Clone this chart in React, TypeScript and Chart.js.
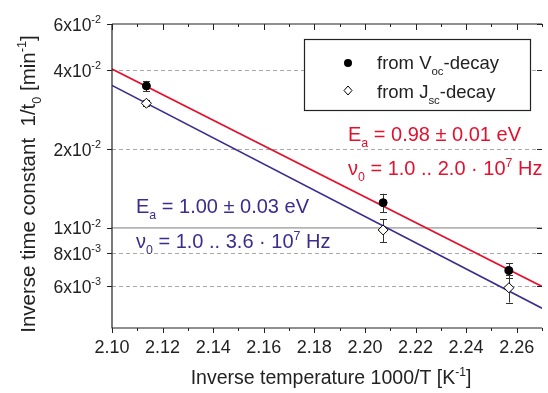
import React, { useEffect, useRef } from 'react';
import { Chart, registerables } from 'chart.js';

Chart.register(...registerables);

// ---- data ----
const xVals = [2.1136, 2.2072, 2.2569];
const vocY = [0.0348, 0.01248, 0.00688];
const vocErr = [0.0016, 0.00102, 0.00044];
const jscY = [0.0299, 0.00982, 0.00591];
const jscErr = [0.0008, 0.001, 0.00072];
const fitX = [2.1, 2.27];
const vocFitY = [0.0404, 0.00598];
const jscFitY = [0.035, 0.00494];
const xTicks = [2.1, 2.12, 2.14, 2.16, 2.18, 2.2, 2.22, 2.24, 2.26];
const xMinorTicks = [2.11, 2.13, 2.15, 2.17, 2.19, 2.21, 2.23, 2.25, 2.27];
const yTicks = [0.006, 0.008, 0.01, 0.02, 0.04, 0.06];
const yTickMant = ['6', '8', '1', '2', '4', '6'];
const yTickExp = ['-3', '-3', '-2', '-2', '-2', '-2'];
const yDashed = [0.006, 0.008, 0.02, 0.04];
const ySolid = [0.01];
const X_MIN = 2.1;
const X_MAX = 2.27;
const Y_MIN = 0.00415;
const Y_MAX = 0.06;

const RED = '#e3112e';
const BLUE = '#3d2b8e';
const FONT = '"Liberation Sans", Arial, Helvetica, sans-serif';

type Seg = { t: string; s?: 'sub' | 'sup' };

function segFont(size: number, s?: string) {
  return `${s ? size * 0.62 : size}px ${FONT}`;
}
function richWidth(ctx: CanvasRenderingContext2D, segs: Seg[], size: number) {
  let w = 0;
  for (const g of segs) {
    ctx.font = segFont(size, g.s);
    w += ctx.measureText(g.t).width;
  }
  return w;
}
function drawRich(
  ctx: CanvasRenderingContext2D,
  segs: Seg[],
  x: number,
  y: number,
  size: number,
  color: string,
  align: 'left' | 'right' | 'center' = 'left'
) {
  const w = richWidth(ctx, segs, size);
  let cx = align === 'left' ? x : align === 'right' ? x - w : x - w / 2;
  ctx.save();
  ctx.fillStyle = color;
  ctx.textAlign = 'left';
  ctx.textBaseline = 'alphabetic';
  for (const g of segs) {
    ctx.font = segFont(size, g.s);
    const dy = g.s === 'sub' ? size * 0.3 : g.s === 'sup' ? -size * 0.42 : 0;
    ctx.fillText(g.t, cx, y + dy);
    cx += ctx.measureText(g.t).width;
  }
  ctx.restore();
}

const decorPlugin = {
  id: 'decor',
  beforeDatasetsDraw(chart: any) {
    const { ctx, chartArea: a, scales } = chart;
    const ys = scales.y;
    ctx.save();
    ctx.beginPath();
    ctx.rect(a.left, a.top, a.right - a.left, a.bottom - a.top);
    ctx.clip();
    ctx.strokeStyle = '#a8a8a8';
    ctx.lineWidth = 1;
    ctx.setLineDash([4, 3]);
    for (const v of yDashed) {
      const py = Math.round(ys.getPixelForValue(v)) + 0.5;
      ctx.beginPath();
      ctx.moveTo(a.left, py);
      ctx.lineTo(a.right, py);
      ctx.stroke();
    }
    ctx.setLineDash([]);
    ctx.strokeStyle = '#b4b4b4';
    ctx.lineWidth = 1.6;
    for (const v of ySolid) {
      const py = ys.getPixelForValue(v);
      ctx.beginPath();
      ctx.moveTo(a.left, py);
      ctx.lineTo(a.right, py);
      ctx.stroke();
    }
    ctx.restore();
  },
  beforeDatasetDraw(chart: any, args: any) {
    if (args.index !== 1) return;
    const { ctx, scales } = chart;
    const xs = scales.x;
    const ys = scales.y;
    ctx.save();
    ctx.strokeStyle = '#333';
    ctx.lineWidth = 1;
    const bars = (vals: number[], errs: number[]) => {
      vals.forEach((v, i) => {
        const px = Math.round(xs.getPixelForValue(xVals[i])) + 0.5;
        const t = ys.getPixelForValue(v + errs[i]);
        const b = ys.getPixelForValue(v - errs[i]);
        ctx.beginPath();
        ctx.moveTo(px, t);
        ctx.lineTo(px, b);
        ctx.moveTo(px - 3.5, Math.round(t) + 0.5);
        ctx.lineTo(px + 3.5, Math.round(t) + 0.5);
        ctx.moveTo(px - 3.5, Math.round(b) + 0.5);
        ctx.lineTo(px + 3.5, Math.round(b) + 0.5);
        ctx.stroke();
      });
    };
    bars(vocY, vocErr);
    bars(jscY, jscErr);
    ctx.restore();
  },
  afterDraw(chart: any) {
    const { ctx, chartArea: a, scales } = chart;
    const xs = scales.x;
    const ys = scales.y;
    ctx.save();
    // frame
    ctx.strokeStyle = '#222';
    ctx.lineWidth = 1.2;
    ctx.beginPath();
    ctx.moveTo(a.left, a.top);
    ctx.lineTo(a.left, a.bottom);
    ctx.lineTo(a.right, a.bottom);
    ctx.moveTo(a.left, a.top);
    ctx.lineTo(a.right, a.top);
    ctx.stroke();
    // x ticks
    ctx.lineWidth = 1;
    ctx.beginPath();
    for (const v of xTicks) {
      const px = Math.round(xs.getPixelForValue(v)) + 0.5;
      ctx.moveTo(px, a.bottom);
      ctx.lineTo(px, a.bottom + 5);
      ctx.moveTo(px, a.top);
      ctx.lineTo(px, a.top + 6);
    }
    for (const v of xMinorTicks) {
      const px = Math.round(xs.getPixelForValue(v)) + 0.5;
      ctx.moveTo(px, a.bottom);
      ctx.lineTo(px, a.bottom + 3);
      ctx.moveTo(px, a.top);
      ctx.lineTo(px, a.top + 3);
    }
    // y ticks
    for (const v of yTicks) {
      const py = Math.round(ys.getPixelForValue(v)) + 0.5;
      ctx.moveTo(a.left - 5, py);
      ctx.lineTo(a.left, py);
      ctx.moveTo(a.right - 5, py);
      ctx.lineTo(a.right, py);
    }
    ctx.stroke();
    // x tick labels
    ctx.fillStyle = '#222';
    ctx.font = `18px ${FONT}`;
    ctx.textAlign = 'center';
    ctx.textBaseline = 'alphabetic';
    for (const v of xTicks) {
      ctx.fillText(v.toFixed(2), xs.getPixelForValue(v), 353);
    }
    // y tick labels
    yTicks.forEach((v, i) => {
      const py = ys.getPixelForValue(v);
      drawRich(ctx, [{ t: yTickMant[i] + 'x10' }, { t: yTickExp[i], s: 'sup' }], 101, py + 6.5, 17.5, '#222', 'right');
    });
    // axis titles
    drawRich(
      ctx,
      [{ t: 'Inverse temperature 1000/T [K' }, { t: '-1', s: 'sup' }, { t: ']' }],
      331,
      384,
      19.5,
      '#222',
      'center'
    );
    ctx.save();
    ctx.translate(35, 184);
    ctx.rotate(-Math.PI / 2);
    drawRich(
      ctx,
      [
        { t: 'Inverse time constant  1/t' },
        { t: '0', s: 'sub' },
        { t: ' [min' },
        { t: '-1', s: 'sup' },
        { t: ']' },
      ],
      0,
      0,
      20.5,
      '#222',
      'center'
    );
    ctx.restore();
    // legend
    ctx.fillStyle = '#fff';
    ctx.fillRect(304, 39, 226, 71);
    ctx.strokeStyle = '#222';
    ctx.lineWidth = 1.2;
    ctx.strokeRect(304.5, 39.5, 226, 71);
    ctx.fillStyle = '#000';
    ctx.beginPath();
    ctx.arc(348, 63, 4, 0, Math.PI * 2);
    ctx.fill();
    ctx.fillStyle = '#fff';
    ctx.strokeStyle = '#000';
    ctx.lineWidth = 1;
    ctx.beginPath();
    ctx.moveTo(348, 86);
    ctx.lineTo(352, 90.5);
    ctx.lineTo(348, 95);
    ctx.lineTo(344, 90.5);
    ctx.closePath();
    ctx.fill();
    ctx.stroke();
    drawRich(ctx, [{ t: 'from V' }, { t: 'oc', s: 'sub' }, { t: '-decay' }], 377, 69, 18.5, '#222');
    drawRich(ctx, [{ t: 'from J' }, { t: 'sc', s: 'sub' }, { t: '-decay' }], 377, 98, 18.5, '#222');
    // annotations
    drawRich(ctx, [{ t: 'E' }, { t: 'a', s: 'sub' }, { t: ' = 0.98 \u00b1 0.01 eV' }], 348, 141, 20, RED);
    drawRich(
      ctx,
      [{ t: '\u03bd' }, { t: '0', s: 'sub' }, { t: ' = 1.0 .. 2.0 \u00b7 10' }, { t: '7', s: 'sup' }, { t: ' Hz' }],
      348,
      175,
      20,
      RED
    );
    drawRich(ctx, [{ t: 'E' }, { t: 'a', s: 'sub' }, { t: ' = 1.00 \u00b1 0.03 eV' }], 136, 213, 20, BLUE);
    drawRich(
      ctx,
      [{ t: '\u03bd' }, { t: '0', s: 'sub' }, { t: ' = 1.0 .. 3.6 \u00b7 10' }, { t: '7', s: 'sup' }, { t: ' Hz' }],
      136,
      248,
      20,
      BLUE
    );
    ctx.restore();
  },
};

export default function App() {
  const ref = useRef<HTMLCanvasElement>(null);
  useEffect(() => {
    const canvas = ref.current;
    if (!canvas) return;
    const chart = new Chart(canvas, {
      type: 'scatter',
      data: {
        datasets: [
          {
            label: 'from Voc-decay',
            data: xVals.map((x, i) => ({ x, y: vocY[i] })),
            pointStyle: 'circle',
            pointRadius: 4,
            backgroundColor: '#000',
            borderColor: '#000',
            borderWidth: 1,
            showLine: false,
          },
          {
            label: 'from Jsc-decay',
            data: xVals.map((x, i) => ({ x, y: jscY[i] })),
            pointStyle: 'rectRot',
            pointRadius: 5,
            backgroundColor: '#fff',
            borderColor: '#000',
            borderWidth: 1,
            showLine: false,
          },
          {
            label: 'fit Voc',
            data: fitX.map((x, i) => ({ x, y: vocFitY[i] })),
            showLine: true,
            pointRadius: 0,
            borderColor: RED,
            borderWidth: 1.6,
            fill: false,
          },
          {
            label: 'fit Jsc',
            data: fitX.map((x, i) => ({ x, y: jscFitY[i] })),
            showLine: true,
            pointRadius: 0,
            borderColor: BLUE,
            borderWidth: 1.6,
            fill: false,
          },
        ],
      } as any,
      options: {
        responsive: false,
        animation: false,
        devicePixelRatio: 1,
        layout: { padding: { top: 24, left: 0, right: 0, bottom: 0 } },
        plugins: { legend: { display: false }, tooltip: { enabled: false } },
        scales: {
          x: {
            type: 'linear',
            min: X_MIN,
            max: X_MAX,
            grid: { display: false, drawTicks: false },
            border: { display: false },
            ticks: { display: false },
            afterFit: (s: any) => {
              s.height = 65;
            },
          },
          y: {
            type: 'logarithmic',
            min: Y_MIN,
            max: Y_MAX,
            grid: { display: false, drawTicks: false },
            border: { display: false },
            ticks: { display: false },
            afterFit: (s: any) => {
              s.width = 112;
            },
          },
        },
      } as any,
      plugins: [decorPlugin as any],
    });
    return () => chart.destroy();
  }, []);
  return (
    <div style={{ position: 'fixed', left: 0, top: 0, width: 548, height: 393, background: '#fff' }}>
      <canvas ref={ref} width={548} height={393} style={{ display: 'block' }} />
    </div>
  );
}
